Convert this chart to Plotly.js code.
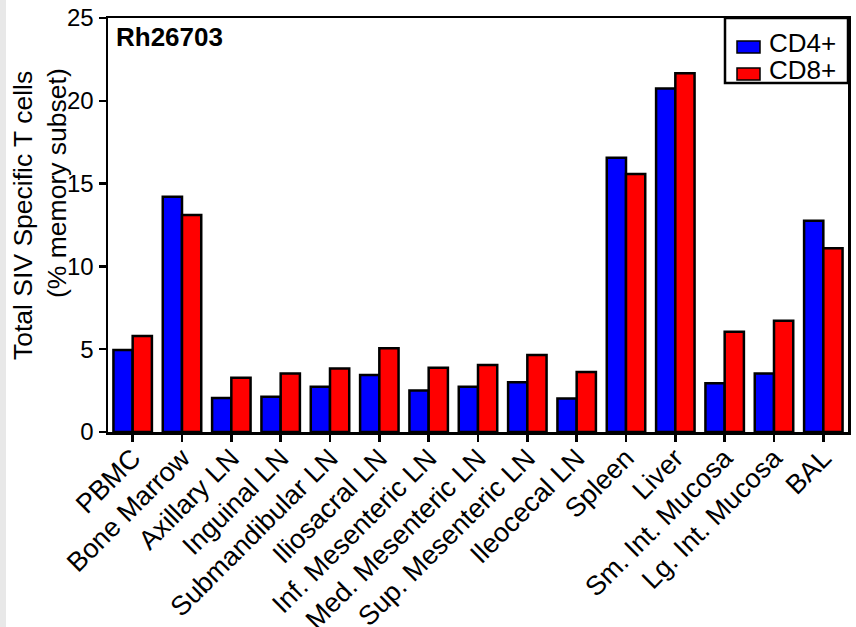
<!DOCTYPE html>
<html>
<head>
<meta charset="utf-8">
<script src="https://cdn.plot.ly/plotly-3.0.1.min.js"></script>
<style>html,body{margin:0;padding:0;background:#fff;}#chart{width:856px;height:627px;}</style>
</head>
<body>
<div id="chart"></div>
<script>
const categories = ["PBMC", "Bone Marrow", "Axillary LN", "Inguinal LN", "Submandibular LN", "Iliosacral LN", "Inf. Mesenteric LN", "Med. Mesenteric LN", "Sup. Mesenteric LN", "Ileocecal LN", "Spleen", "Liver", "Sm. Int. Mucosa", "Lg. Int. Mucosa", "BAL"];
const cd4 = [4.95, 14.2, 2.05, 2.13, 2.74, 3.44, 2.5, 2.74, 3.0, 2.03, 16.56, 20.75, 2.94, 3.54, 12.76];
const cd8 = [5.8, 13.1, 3.28, 3.54, 3.84, 5.05, 3.88, 4.05, 4.65, 3.62, 15.58, 21.66, 6.06, 6.72, 11.09];
const yTicks = [0, 5, 10, 15, 20, 25];
const yTitleLines = ["Total SIV Specific T cells", "(% memory subset)"];
const seriesNames = ["CD4+", "CD8+"];
const seriesColors = ["#0000ff", "#ff0000"];

const font = "'Liberation Sans', Arial, sans-serif";
const W = 856, H = 627, M = {l: 108, r: 8, t: 18, b: 195};
const PW = W - M.l - M.r, PH = H - M.t - M.b;
const px = x => (x - M.l) / PW;
const py = y => (H - M.b - y) / PH;

const data = [
  {type: "bar", name: seriesNames[0], x: categories, y: cd4, marker: {color: seriesColors[0], line: {color: "#000", width: 2.5}}},
  {type: "bar", name: seriesNames[1], x: categories, y: cd8, marker: {color: seriesColors[1], line: {color: "#000", width: 2.5}}}
];

const annotations = [
  {text: "<b>Rh26703</b>", xref: "paper", yref: "paper", x: px(114), y: py(20), xanchor: "left", yanchor: "top",
   showarrow: false, font: {size: 26, family: font, color: "#000"}},
  {text: yTitleLines[0], xref: "paper", yref: "paper", x: px(23), y: py(216), xanchor: "center", yanchor: "middle",
   textangle: -90, showarrow: false, font: {size: 26.5, family: font, color: "#000"}},
  {text: yTitleLines[1], xref: "paper", yref: "paper", x: px(57), y: py(183), xanchor: "center", yanchor: "middle",
   textangle: -90, showarrow: false, font: {size: 26.5, family: font, color: "#000"}}
];
const shapes = [
  {type: "rect", xref: "paper", yref: "paper", x0: px(0), x1: px(6), y0: py(H), y1: py(0),
   fillcolor: "#e8e8e8", line: {width: 0}, layer: "below"},
  {type: "rect", xref: "paper", yref: "paper", x0: px(725), x1: 1, y0: py(83), y1: 1,
   fillcolor: "#fff", line: {color: "#000", width: 2.5}}
];
const legendRows = [43, 70];
seriesNames.forEach((name, i) => {
  const cy = legendRows[i];
  shapes.push({type: "rect", xref: "paper", yref: "paper", x0: px(737), x1: px(760), y0: py(cy + 10), y1: py(cy - 2),
    fillcolor: seriesColors[i], line: {color: "#000", width: 1.5}});
  annotations.push({text: name, xref: "paper", yref: "paper", x: px(767), y: py(cy), xanchor: "left", yanchor: "middle",
    showarrow: false, font: {size: 26, family: font, color: "#000"}});
});

const layout = {
  width: W, height: H,
  margin: M,
  paper_bgcolor: "#fff", plot_bgcolor: "#fff",
  font: {family: font, color: "#000"},
  barmode: "group", bargap: 0.22, bargroupgap: 0,
  showlegend: false,
  xaxis: {
    type: "category", showline: true, linecolor: "#000", linewidth: 2.5, mirror: true,
    ticks: "outside", ticklen: 7, tickwidth: 2.5, tickcolor: "#000",
    tickangle: -45, tickfont: {size: 27, family: font}, showgrid: false, zeroline: false,
    ticklabelstandoff: -10
  },
  yaxis: {
    range: [0, 25], tickvals: yTicks, ticktext: yTicks.map(String),
    showline: true, linecolor: "#000", linewidth: 2.5, mirror: true,
    ticks: "outside", ticklen: 7, tickwidth: 2.5, tickcolor: "#000",
    tickfont: {size: 24, family: font}, showgrid: false, zeroline: false
  },
  annotations: annotations,
  shapes: shapes
};
Plotly.newPlot("chart", data, layout, {displayModeBar: false, staticPlot: true});
</script>
</body>
</html>
